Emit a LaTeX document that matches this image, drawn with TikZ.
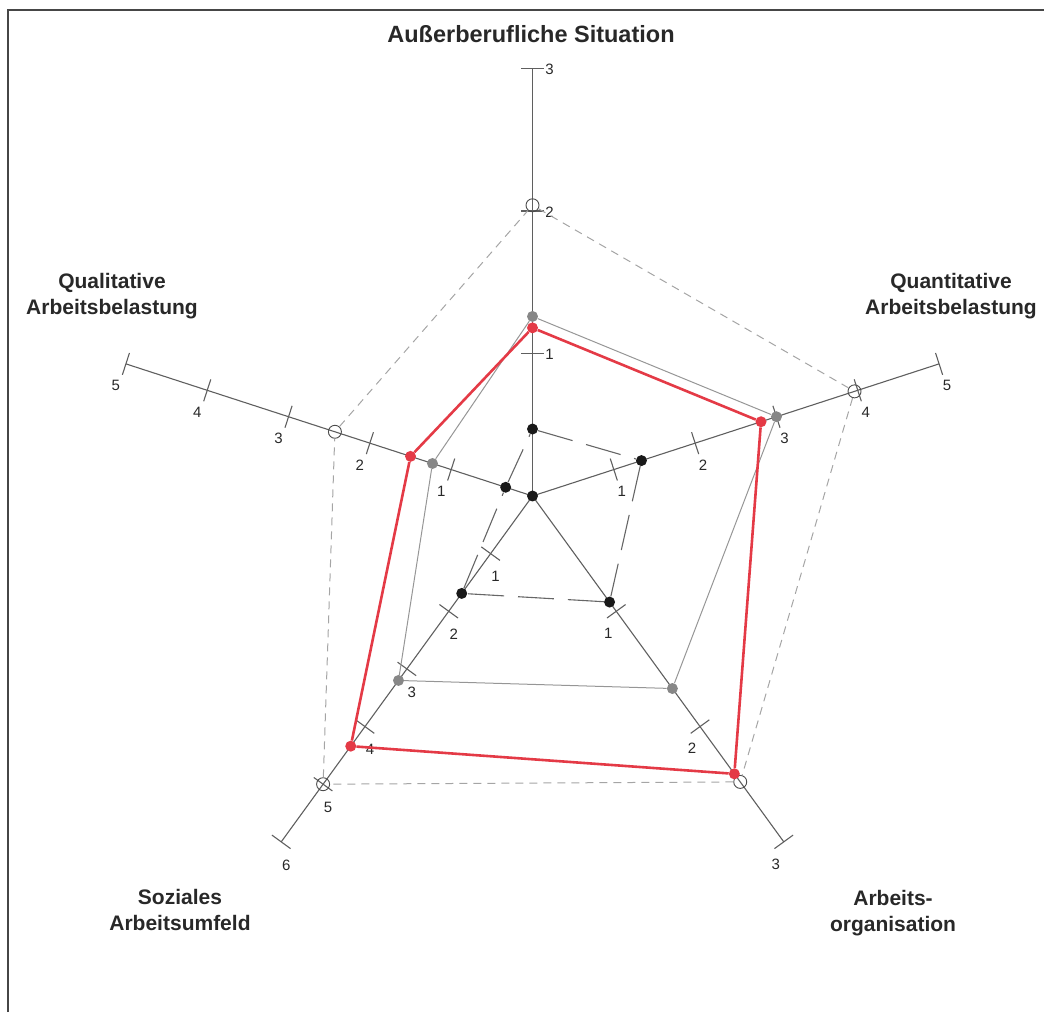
\documentclass[tikz,border=0pt]{standalone}
\usepackage{fontspec}
\setmainfont{Liberation Sans}
\usetikzlibrary{calc}
\definecolor{redline}{RGB}{228,58,70}
\definecolor{greydot}{RGB}{135,135,135}
\definecolor{greyline}{RGB}{150,150,150}
\definecolor{axisgrey}{RGB}{95,95,95}
\definecolor{dashgrey}{RGB}{165,165,165}
\definecolor{framegrey}{RGB}{70,70,70}
\definecolor{textgrey}{RGB}{40,40,40}
\begin{document}
\begin{tikzpicture}[x=1pt,y=1pt,
  axisline/.style={draw=axisgrey,line width=1.1pt},
  num/.style={font=\fontsize{15}{17}\selectfont,text=textgrey,inner sep=0pt},
  cat/.style={font=\fontsize{21}{26}\selectfont\bfseries,text=textgrey,inner sep=0pt,anchor=base},
  blackdot/.style={circle,fill=black!90,minimum size=11pt,inner sep=0pt},
  greydotst/.style={circle,fill=greydot,minimum size=11pt,inner sep=0pt},
  reddot/.style={circle,fill=redline,minimum size=11pt,inner sep=0pt},
  opendot/.style={circle,draw=black!70,line width=0.9pt,minimum size=13pt,inner sep=0pt},
  kpoly/.style={draw=black!60,line width=1.1pt,dash pattern=on 36pt off 14pt},
  gpoly/.style={draw=greyline,line width=1pt},
  rpoly/.style={draw=redline,line width=2.6pt},
  opoly/.style={draw=dashgrey,line width=1pt,dash pattern=on 8pt off 6pt},
]
\useasboundingbox (0,0) rectangle (1044,1012);
\coordinate (fa) at (8,0);
\coordinate (fb) at (8,1002);
\coordinate (fc) at (1044,1002);
\draw[draw=framegrey,line width=2pt] (fa) -- (fb) -- (fc);

\coordinate (O) at (532.5,516);

% axes, ticks and tick labels
\foreach \n/\ang/\u/\m/\ox/\oy in {A/90/142.5/3/17/-1, B/18/85.5/5/8/-22, C/-54/142.5/3/-8/-22, D/234/71.25/6/5/-23, E/162/85.5/5/-10/-22}{
  \pgfmathsetmacro\rr{\m*\u}
  \coordinate (end\n) at ($(O)+(\ang:\rr)$);
  \draw[axisline] (O) -- (end\n);
  \foreach \k in {1,...,\m}{
    \pgfmathsetmacro\r{\k*\u}
    \pgfmathsetmacro\pa{\ang+90}
    \pgfmathsetmacro\pb{\ang-90}
    \coordinate (t\n\k) at ($(O)+(\ang:\r)$);
    \coordinate (ta\n\k) at ($(t\n\k)+(\pa:11.5)$);
    \coordinate (tb\n\k) at ($(t\n\k)+(\pb:11.5)$);
    \draw[axisline] (ta\n\k) -- (tb\n\k);
    \node[num] (l\n\k) at ($(t\n\k)+(\ox,\oy)$) {\k};
  }
}

% data series
\foreach \s/\st/\va/\vb/\vc/\vd/\ve in {o/opendot/2.04/3.96/2.48/5/2.43, k/blackdot/0.47/1.34/0.92/1.69/0.33, g/greydotst/1.26/3/1.67/3.2/1.23, r/reddot/1.18/2.81/2.41/4.34/1.5}{
  \pgfmathsetmacro\ra{\va*142.5}
  \pgfmathsetmacro\rb{\vb*85.5}
  \pgfmathsetmacro\rc{\vc*142.5}
  \pgfmathsetmacro\rd{\vd*71.25}
  \pgfmathsetmacro\re{\ve*85.5}
  \node[\st] (\s A) at ($(O)+(90:\ra)$) {};
  \node[\st] (\s B) at ($(O)+(18:\rb)$) {};
  \node[\st] (\s C) at ($(O)+(-54:\rc)$) {};
  \node[\st] (\s D) at ($(O)+(234:\rd)$) {};
  \node[\st] (\s E) at ($(O)+(162:\re)$) {};
  \draw[\s poly] (\s A) -- (\s B) -- (\s C) -- (\s D) -- (\s E) -- (\s A);
}
\node[blackdot] (k0) at (O) {};

% category labels
\node[font=\fontsize{23.5}{26}\selectfont\bfseries,text=textgrey,inner sep=0pt,anchor=base] (tA) at (531,969) {Außerberufliche Situation};
\node[cat] (tE) at (112,723) {\begin{tabular}[t]{@{}c@{}}Qualitative\\Arbeitsbelastung\end{tabular}};
\node[cat] (tB) at (951,723) {\begin{tabular}[t]{@{}c@{}}Quantitative\\Arbeitsbelastung\end{tabular}};
\node[cat] (tD) at (180,107) {\begin{tabular}[t]{@{}c@{}}Soziales\\Arbeitsumfeld\end{tabular}};
\node[cat] (tC) at (893,106) {\begin{tabular}[t]{@{}c@{}}Arbeits-\\organisation\end{tabular}};
\end{tikzpicture}
\end{document}
